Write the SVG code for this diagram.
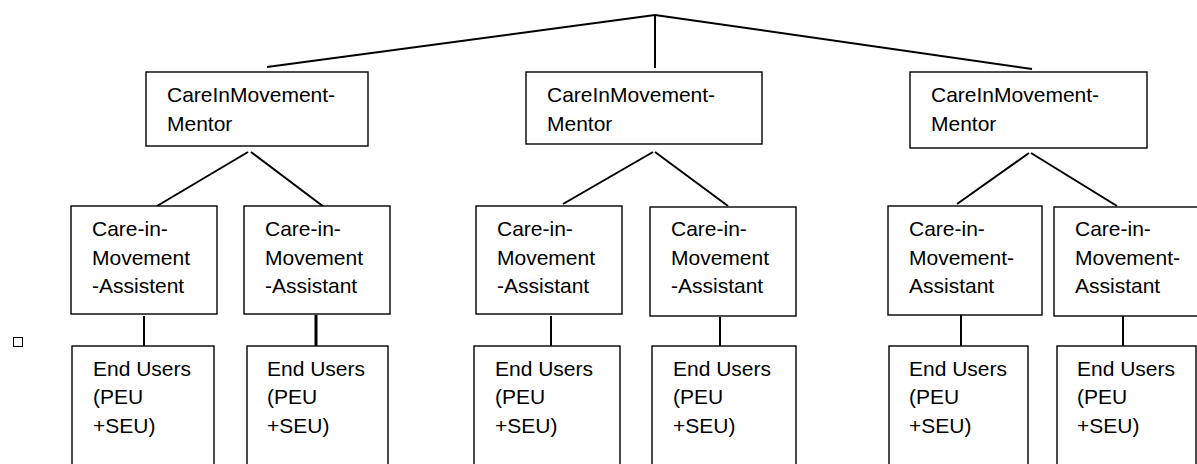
<svg xmlns="http://www.w3.org/2000/svg" width="1197" height="464" viewBox="0 0 1197 464">
<style>
.box{fill:#fff;stroke:#000;stroke-width:1.4}
.t{font-family:"Liberation Sans",Arial,sans-serif;font-size:21px;fill:#000}
.c{stroke:#000;stroke-width:2;fill:none;stroke-linecap:butt}
</style>
<rect x="0" y="0" width="1197" height="464" fill="#fff"/>
<g id="connectors">
<line class="c" x1="267" y1="67" x2="655" y2="15"/>
<line class="c" x1="655" y1="15" x2="655" y2="68"/>
<line class="c" x1="655" y1="15" x2="1032" y2="69"/>
<line class="c" x1="248" y1="152" x2="157" y2="206"/>
<line class="c" x1="251" y1="152" x2="324" y2="207"/>
<line class="c" x1="653" y1="152" x2="563" y2="204"/>
<line class="c" x1="655" y1="152" x2="728" y2="206"/>
<line class="c" x1="1029" y1="153" x2="957" y2="204"/>
<line class="c" x1="1031" y1="153" x2="1117" y2="206"/>
<line class="c" x1="144" y1="316" x2="144" y2="348"/>
<line class="c" x1="316" y1="315" x2="316" y2="346" style="stroke-width:3"/>
<line class="c" x1="551" y1="316" x2="551" y2="346"/>
<line class="c" x1="720" y1="317" x2="720" y2="346"/>
<line class="c" x1="961" y1="313" x2="961" y2="346"/>
<line class="c" x1="1123" y1="316" x2="1123" y2="348"/>
</g>
<g id="mentor1"><rect class="box" x="146" y="72" width="222" height="74"/><text class="t" x="167" y="102">CareInMovement-</text><text class="t" x="167" y="131">Mentor</text></g>
<g id="mentor2"><rect class="box" x="526" y="72" width="236" height="72"/><text class="t" x="547" y="102">CareInMovement-</text><text class="t" x="547" y="131">Mentor</text></g>
<g id="mentor3"><rect class="box" x="910" y="72" width="237" height="76"/><text class="t" x="931" y="102">CareInMovement-</text><text class="t" x="931" y="131">Mentor</text></g>
<g id="assist1"><rect class="box" x="71" y="206" width="146" height="108"/><text class="t" x="92" y="236">Care-in-</text><text class="t" x="92" y="265">Movement</text><text class="t" x="92" y="293">-Assistent</text></g>
<g id="assist2"><rect class="box" x="244" y="206" width="146" height="108"/><text class="t" x="265" y="236">Care-in-</text><text class="t" x="265" y="265">Movement</text><text class="t" x="265" y="293">-Assistant</text></g>
<g id="assist3"><rect class="box" x="476" y="206" width="146" height="108"/><text class="t" x="497" y="236">Care-in-</text><text class="t" x="497" y="265">Movement</text><text class="t" x="497" y="293">-Assistant</text></g>
<g id="assist4"><rect class="box" x="650" y="207" width="146" height="109"/><text class="t" x="671" y="236">Care-in-</text><text class="t" x="671" y="265">Movement</text><text class="t" x="671" y="293">-Assistant</text></g>
<g id="assist5"><rect class="box" x="888" y="206" width="154" height="109"/><text class="t" x="909" y="236">Care-in-</text><text class="t" x="909" y="265">Movement-</text><text class="t" x="909" y="293">Assistant</text></g>
<g id="assist6"><rect class="box" x="1054" y="207" width="150" height="109"/><text class="t" x="1075" y="236">Care-in-</text><text class="t" x="1075" y="265">Movement-</text><text class="t" x="1075" y="293">Assistant</text></g>
<g id="end1"><rect class="box" x="72" y="346" width="142" height="130"/><text class="t" x="93" y="376">End Users</text><text class="t" x="93" y="404">(PEU</text><text class="t" x="93" y="433">+SEU)</text></g>
<g id="end2"><rect class="box" x="247" y="346" width="141" height="130"/><text class="t" x="267" y="376">End Users</text><text class="t" x="267" y="404">(PEU</text><text class="t" x="267" y="433">+SEU)</text></g>
<g id="end3"><rect class="box" x="474" y="346" width="146" height="130"/><text class="t" x="495" y="376">End Users</text><text class="t" x="495" y="404">(PEU</text><text class="t" x="495" y="433">+SEU)</text></g>
<g id="end4"><rect class="box" x="652" y="346" width="144" height="130"/><text class="t" x="673" y="376">End Users</text><text class="t" x="673" y="404">(PEU</text><text class="t" x="673" y="433">+SEU)</text></g>
<g id="end5"><rect class="box" x="889" y="346" width="139" height="130"/><text class="t" x="909" y="376">End Users</text><text class="t" x="909" y="404">(PEU</text><text class="t" x="909" y="433">+SEU)</text></g>
<g id="end6"><rect class="box" x="1057" y="346" width="139" height="130"/><text class="t" x="1077" y="376">End Users</text><text class="t" x="1077" y="404">(PEU</text><text class="t" x="1077" y="433">+SEU)</text></g>
<g id="marker-square"><rect x="13.5" y="337.5" width="9" height="9" fill="#fff" stroke="#000" stroke-width="1"/></g>
</svg>
